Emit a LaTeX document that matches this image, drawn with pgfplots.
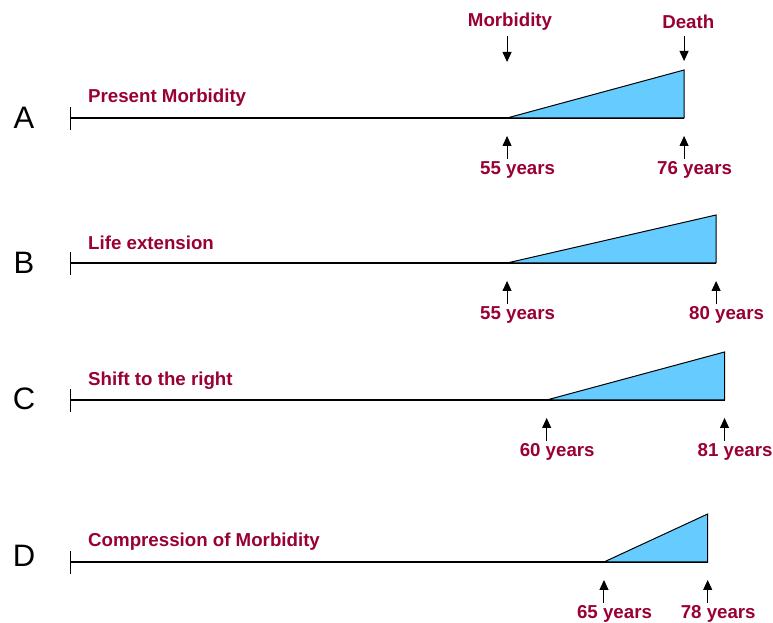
\documentclass[border=0pt]{standalone}
\usepackage{pgfplots}
\pgfplotsset{compat=1.18}
\usepackage{fontspec}
\setmainfont{Liberation Sans}
\usetikzlibrary{arrows.meta}
\definecolor{lbl}{RGB}{153,0,51}
\definecolor{sick}{RGB}{102,204,255}
\begin{document}
\begin{tikzpicture}[
  lbl/.style={text=lbl, inner sep=0pt, font=\fontsize{18.7}{22}\selectfont\bfseries},
  row/.style={inner sep=0pt, font=\fontsize{31}{36}\selectfont},
  up/.style={-{Triangle[length=10pt,width=9pt]}, line width=1pt},
]
\begin{axis}[
  width=773pt, height=623pt, scale only axis,
  xmin=-5.15, xmax=86.55, ymin=0, ymax=623,
  axis lines=none, clip=false,
]
% full canvas
\path (rel axis cs:0,0) rectangle (rel axis cs:1,1);
% timelines: start of life to death
\addplot[black, line width=1.2pt] coordinates {(3.2,505) (76,505)};
\addplot[black, line width=1.2pt] coordinates {(3.2,360) (79.8,360)};
\addplot[black, line width=1.2pt] coordinates {(3.2,223) (80.8,223)};
\addplot[black, line width=1.2pt] coordinates {(3.2,61) (78.8,61)};
% start ticks
\addplot[black, line width=1.2pt] coordinates {(3.2,493) (3.2,516)};
\addplot[black, line width=1.2pt] coordinates {(3.2,348) (3.2,371)};
\addplot[black, line width=1.2pt] coordinates {(3.2,211) (3.2,234)};
\addplot[black, line width=1.2pt] coordinates {(3.2,49) (3.2,72)};
% morbidity wedges
\addplot[fill=sick, draw=black, line width=1pt] coordinates {(55,505) (76,553) (76,505)} --cycle;
\addplot[fill=sick, draw=black, line width=1pt] coordinates {(55,360) (79.8,408) (79.8,360)} --cycle;
\addplot[fill=sick, draw=black, line width=1pt] coordinates {(59.7,223) (80.8,271) (80.8,223)} --cycle;
\addplot[fill=sick, draw=black, line width=1pt] coordinates {(66.5,61) (78.8,109) (78.8,61)} --cycle;

% row letters and titles
\node[row] at (axis cs:-2.3,505) {A};
\node[row] at (axis cs:-2.3,360) {B};
\node[row] at (axis cs:-2.3,224) {C};
\node[row] at (axis cs:-2.3,67) {D};
\node[lbl, anchor=west] at (axis cs:5.29,525) {Present Morbidity};
\node[lbl, anchor=west] at (axis cs:5.29,380) {Life extension};
\node[lbl, anchor=west] at (axis cs:5.29,242) {Shift to the right};
\node[lbl, anchor=west] at (axis cs:5.29,81) {Compression of Morbidity};

% top markers
\node[lbl] at (axis cs:55.35,601) {Morbidity};
\node[lbl] at (axis cs:76.5,601) {Death};
\draw[up] (axis cs:55,587) -- (axis cs:55,561);
\draw[up] (axis cs:76,587) -- (axis cs:76,562);

% age arrows and labels
\foreach \x/\b/\t in {55/505/55, 76/505/76, 55/360/55, 79.8/360/80, 59.7/223/60, 80.8/223/81, 66.5/61/65, 78.8/61/78} {
  \edef\tmp{\noexpand\draw[up] (axis cs:\x,\b-41) -- (axis cs:\x,\b-18);
    \noexpand\node[lbl] at (axis cs:\x+1.25,\b-52) {\t\noexpand\ years};}
  \tmp
}
\end{axis}
\end{tikzpicture}
\end{document}
